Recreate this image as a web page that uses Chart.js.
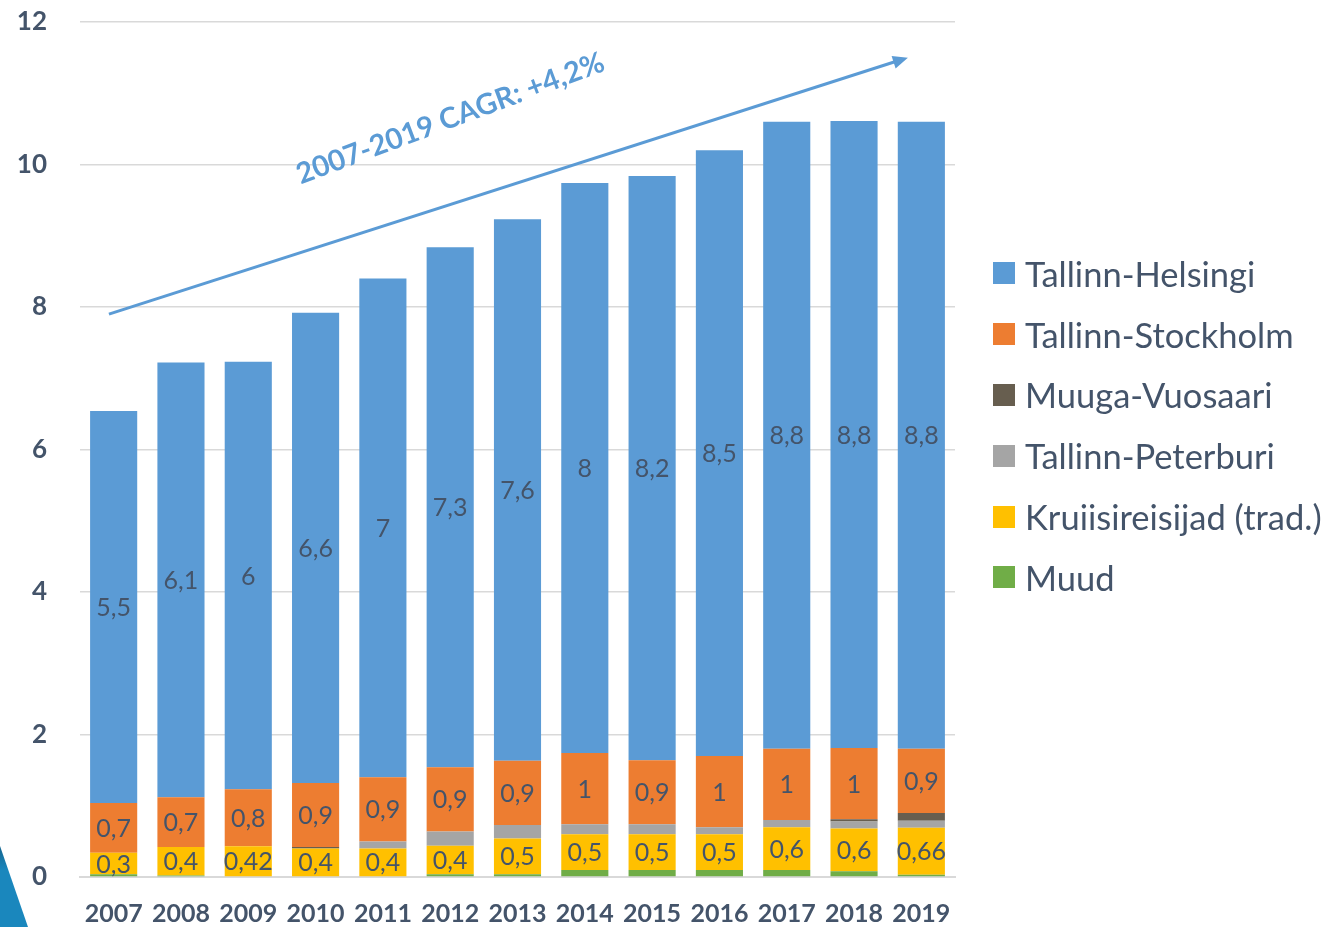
<!DOCTYPE html>
<html>
<head>
<meta charset="utf-8">
<script src="https://cdn.jsdelivr.net/npm/chart.js@4/dist/chart.umd.min.js"></script>
<style>
  html, body { margin: 0; padding: 0; background: #fff; }
  #wrap { position: relative; width: 1330px; height: 927px; }
  #corner {
    position: absolute; left: 0; top: 846px; width: 28px; height: 81px;
    background: linear-gradient(180deg, #14658f 0%, #1a87bd 30%, #1a87bd 100%);
    clip-path: polygon(0 0, 100% 100%, 0 100%);
  }
  #legend {
    position: absolute; left: 993px; top: 243px;
    font-family: Lato, "Noto Sans", sans-serif; font-size: 34.5px; color: #44546a;
  }
  #legend .item { height: 60.8px; display: flex; align-items: center; white-space: nowrap; }
  #legend .box { width: 22px; height: 22px; margin-right: 10px; flex: none; }
</style>
</head>
<body>
<div id="wrap">
  <canvas id="myChart" width="1330" height="927"></canvas>
  <div id="legend"></div>
  <div id="corner"></div>
</div>
<script>
// Data (million passengers)
const years = ['2007', '2008', '2009', '2010', '2011', '2012', '2013', '2014', '2015', '2016', '2017', '2018', '2019'];
const muud = [0.04, 0.02, 0.01, 0, 0, 0.04, 0.04, 0.1, 0.1, 0.1, 0.1, 0.08, 0.03];
const kruiisi = [0.3, 0.4, 0.42, 0.4, 0.4, 0.4, 0.5, 0.5, 0.5, 0.5, 0.6, 0.6, 0.66];
const peterburi = [0, 0, 0, 0, 0.1, 0.2, 0.19, 0.14, 0.14, 0.1, 0.1, 0.1, 0.1];
const vuosaari = [0, 0, 0, 0.02, 0, 0, 0, 0, 0, 0, 0, 0.03, 0.11];
const stockholm = [0.7, 0.7, 0.8, 0.9, 0.9, 0.9, 0.9, 1, 0.9, 1, 1, 1, 0.9];
const helsingi = [5.5, 6.1, 6, 6.6, 7, 7.3, 7.6, 8, 8.2, 8.5, 8.8, 8.8, 8.8];
const yTicks = [0, 2, 4, 6, 8, 10, 12];

// trend arrow in data space: [category index, value]
const cagrFrom = [-0.07, 7.9];
const cagrTo = [11.8, 11.5];
const cagrText = '2007-2019 CAGR: +4,2%';
const cagrTextAt = [2.78, 9.72];
const cagrTextAngle = -20.5;

const textColor = '#44546a';
const fontFam = 'Lato, "Noto Sans", sans-serif';

// labels in the middle of the segments
const segmentLabels = {
    id: 'segmentLabels',
    afterDatasetsDraw(chart) {
        const c = chart.ctx;
        c.save();
        c.font = '25px ' + fontFam;
        c.fillStyle = textColor;
        c.textAlign = 'center';
        c.textBaseline = 'middle';
        chart.data.datasets.forEach((ds, i) => {
            if (!ds.showLabels) return;
            const meta = chart.getDatasetMeta(i);
            meta.data.forEach((bar, j) => {
                const txt = String(ds.data[j]).replace('.', ',');
                c.fillText(txt, bar.x, (bar.y + bar.base) / 2 + 1);
            });
        });
        c.restore();
    }
};

// CAGR arrow + text
const cagrArrow = {
    id: 'cagrArrow',
    afterDraw(chart) {
        const c = chart.ctx;
        const xs = chart.scales.x, ys = chart.scales.y;
        const x0 = xs.getPixelForValue(cagrFrom[0]), y0 = ys.getPixelForValue(cagrFrom[1]);
        const x1 = xs.getPixelForValue(cagrTo[0]), y1 = ys.getPixelForValue(cagrTo[1]);
        const ang = Math.atan2(y1 - y0, x1 - x0);
        c.save();
        c.strokeStyle = '#5b9bd5';
        c.fillStyle = '#5b9bd5';
        c.lineWidth = 3;
        c.beginPath();
        c.moveTo(x0, y0);
        c.lineTo(x1 - 12 * Math.cos(ang), y1 - 12 * Math.sin(ang));
        c.stroke();
        c.translate(x1, y1);
        c.rotate(ang);
        c.beginPath();
        c.moveTo(0, 0);
        c.lineTo(-15, -6.5);
        c.lineTo(-15, 6.5);
        c.closePath();
        c.fill();
        c.restore();

        c.save();
        c.translate(xs.getPixelForValue(cagrTextAt[0]), ys.getPixelForValue(cagrTextAt[1]));
        c.rotate(cagrTextAngle * Math.PI / 180);
        c.font = 'bold 29px ' + fontFam;
        c.fillStyle = '#5b9bd5';
        c.textAlign = 'left';
        c.textBaseline = 'alphabetic';
        c.fillText(cagrText, 0, 0);
        c.restore();
    }
};

const ctx = document.getElementById('myChart').getContext('2d');

const myChart = new Chart(ctx, {
    type: 'bar',
    data: {
        labels: years,
        datasets: [
            { label: 'Muud', data: muud, backgroundColor: '#70ad47' },
            { label: 'Kruiisireisijad (trad.)', data: kruiisi, backgroundColor: '#ffc000', showLabels: true },
            { label: 'Tallinn-Peterburi', data: peterburi, backgroundColor: '#a5a5a5' },
            { label: 'Muuga-Vuosaari', data: vuosaari, backgroundColor: '#675e4f' },
            { label: 'Tallinn-Stockholm', data: stockholm, backgroundColor: '#ed7d31', showLabels: true },
            { label: 'Tallinn-Helsingi', data: helsingi, backgroundColor: '#5b9bd5', showLabels: true }
        ]
    },
    options: {
        responsive: false,
        animation: false,
        datasets: {
            bar: { barPercentage: 0.7, categoryPercentage: 1, borderWidth: 0 }
        },
        layout: { padding: { top: 0, right: 375, bottom: 0, left: 8 } },
        scales: {
            x: {
                stacked: true,
                grid: { display: false, drawTicks: false },
                border: { display: true, color: '#d9d9d9', width: 2 },
                ticks: { color: textColor, font: { family: fontFam, size: 25, weight: 'bold' }, padding: 22 },
                afterFit(scale) { scale.height = 50; }
            },
            y: {
                stacked: true,
                min: 0,
                max: 12,
                afterBuildTicks(axis) { axis.ticks = yTicks.map(v => ({ value: v })); },
                grid: { color: '#d9d9d9', lineWidth: 1.5, drawTicks: false },
                border: { display: false },
                ticks: { color: textColor, font: { family: fontFam, size: 26, weight: 'bold' }, padding: 33 },
                afterFit(scale) {
                    scale.width = 72;
                    scale.paddingTop = 22;
                    scale.paddingBottom = 0;
                }
            }
        },
        plugins: {
            tooltip: { enabled: false },
            legend: { display: false }
        }
    },
    plugins: [segmentLabels, cagrArrow]
});

// HTML legend, top item = top of the stack
const legendEl = document.getElementById('legend');
myChart.data.datasets.slice().reverse().forEach(ds => {
    const item = document.createElement('div');
    item.className = 'item';
    const box = document.createElement('span');
    box.className = 'box';
    box.style.background = ds.backgroundColor;
    item.appendChild(box);
    item.appendChild(document.createTextNode(ds.label));
    legendEl.appendChild(item);
});
</script>
</body>
</html>
